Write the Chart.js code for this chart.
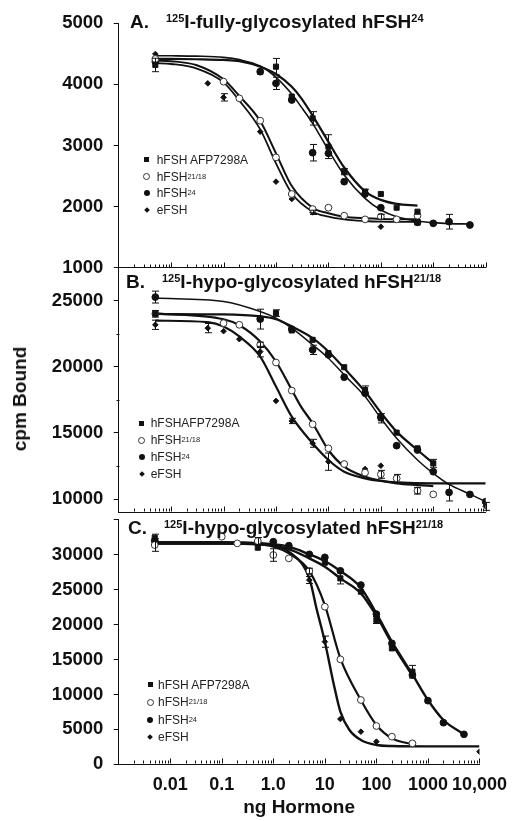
<!DOCTYPE html>
<html><head><meta charset="utf-8">
<script src="https://cdn.jsdelivr.net/npm/chart.js@4/dist/chart.umd.min.js"></script>
<style>
html,body{margin:0;padding:0;background:#fff;}
body{width:517px;height:821px;position:relative;overflow:hidden;font-family:"Liberation Sans",Arial,sans-serif;color:#111;}
canvas{position:absolute;left:0;}
.ttl{position:absolute;font-weight:bold;font-size:19px;white-space:nowrap;line-height:20px;color:#111;}
.ttl .sp{font-size:11px;vertical-align:6px;}
.ttl .gap{display:inline-block;width:17px;}
.leg{position:absolute;font-size:12px;color:#222;}
.leg .row{display:flex;align-items:center;white-space:nowrap;}
.leg sup{font-size:7.5px;vertical-align:4px;line-height:0;}
.mk{display:inline-flex;width:10px;justify-content:center;align-items:center;}
.sq{width:5px;height:5px;background:#111;}
.oc{width:5px;height:5px;border:1px solid #333;border-radius:50%;background:#fff;}
.fc{width:6px;height:6px;border-radius:50%;background:#111;}
.dm{width:4px;height:4px;background:#111;transform:rotate(45deg);}
#ylab{position:absolute;left:20px;top:399px;transform:translate(-50%,-50%) rotate(-90deg);font-weight:bold;font-size:19px;white-space:nowrap;color:#111;}
</style>
</head><body>
<canvas id="cA" width="517" height="290" style="top:0px"></canvas>
<canvas id="cB" width="517" height="290" style="top:245px"></canvas>
<canvas id="cC" width="517" height="326" style="top:495px"></canvas>

<div class="ttl" style="left:130px;top:8px">A.<span class="gap"></span><span class="sp">125</span>I-fully-glycosylated hFSH<span class="sp">24</span></div>
<div class="ttl" style="left:126px;top:268px">B.<span class="gap"></span><span class="sp">125</span>I-hypo-glycosylated hFSH<span class="sp">21/18</span></div>
<div class="ttl" style="left:128px;top:514px">C.<span class="gap"></span><span class="sp">125</span>I-hypo-glycosylated hFSH<span class="sp">21/18</span></div>

<div class="leg" style="left:141.7px;top:151.6px">
 <div class="row" style="height:16.7px"><span class="mk" style="margin-right:5px"><span class="sq"></span></span>hFSH AFP7298A</div>
 <div class="row" style="height:16.7px"><span class="mk" style="margin-right:5px"><span class="oc"></span></span>hFSH<sup>21/18</sup></div>
 <div class="row" style="height:16.7px"><span class="mk" style="margin-right:5px"><span class="fc"></span></span>hFSH<sup>24</sup></div>
 <div class="row" style="height:16.7px"><span class="mk" style="margin-right:5px"><span class="dm"></span></span>eFSH</div>
</div>
<div class="leg" style="left:136.7px;top:414.8px">
 <div class="row" style="height:17px"><span class="mk" style="margin-right:4px"><span class="sq"></span></span>hFSHAFP7298A</div>
 <div class="row" style="height:17px"><span class="mk" style="margin-right:4px"><span class="oc"></span></span>hFSH<sup>21/18</sup></div>
 <div class="row" style="height:17px"><span class="mk" style="margin-right:4px"><span class="fc"></span></span>hFSH<sup>24</sup></div>
 <div class="row" style="height:17px"><span class="mk" style="margin-right:4px"><span class="dm"></span></span>eFSH</div>
</div>
<div class="leg" style="left:145px;top:676.3px">
 <div class="row" style="height:17.4px"><span class="mk" style="margin-right:3px"><span class="sq"></span></span>hFSH AFP7298A</div>
 <div class="row" style="height:17.4px"><span class="mk" style="margin-right:3px"><span class="oc"></span></span>hFSH<sup>21/18</sup></div>
 <div class="row" style="height:17.4px"><span class="mk" style="margin-right:3px"><span class="fc"></span></span>hFSH<sup>24</sup></div>
 <div class="row" style="height:17.4px"><span class="mk" style="margin-right:3px"><span class="dm"></span></span>eFSH</div>
</div>
<div id="ylab">cpm Bound</div>

<script>
// ---------- axis data ----------
const xMin = 0.001, xMax = 10000;
const xTickValues = [0.01, 0.1, 1, 10, 100, 1000, 10000];
const xTickLabels = ['0.01', '0.1', '1.0', '10', '100', '1000', '10,000'];
const xTitle = 'ng Hormone';

const aYRange = [1000, 5000];
const aYTicks = [1000, 2000, 3000, 4000, 5000];
const bYRange = [9000, 27500];
const bYTicks = [10000, 15000, 20000, 25000];
const bYMinor = [12500, 17500, 22500];
const cYRange = [0, 35000];
const cYTicks = [0, 5000, 10000, 15000, 20000, 25000, 30000, 35000];
const cYHidden = [35000];

// ---------- Panel A: 125I-fully-glycosylated hFSH24 ----------
const aAfpX = [0.005, 0.5, 1, 2, 5, 10, 20, 50, 100, 200, 500];
const aAfpY = [4318, 4208, 4290, 3800, 3444, 2981, 2571, 2244, 2206, 1982, 1917];
const aAfpErr = [110, 0, 135, 0, 110, 195, 50, 40, 0, 0, 0];
const aH2118X = [0.005, 0.1, 0.2, 0.5, 1, 2, 5, 10, 20, 50, 100, 200, 500];
const aH2118Y = [4416, 4045, 3772, 3406, 2806, 2206, 1960, 1982, 1851, 1791, 1835, 1791, 1851];
const aH2118Err = [0, 0, 0, 0, 0, 0, 0, 0, 0, 0, 40, 0, 0];
const aH24X = [0.005, 0.5, 1, 2, 5, 10, 20, 50, 100, 500, 1000, 2000, 5000];
const aH24Y = [4372, 4208, 4017, 3745, 2882, 2872, 2408, 2206, 1982, 1742, 1726, 1753, 1699];
const aH24Err = [0, 0, 100, 0, 135, 0, 0, 0, 0, 40, 0, 120, 0];
const aEfshX = [0.005, 0.05, 0.1, 0.5, 1, 2, 5, 100];
const aEfshY = [4497, 4017, 3788, 3226, 2408, 2124, 1906, 1671];
const aEfshErr = [0, 0, 60, 0, 0, 0, 35, 0];

const aFitAfpX = [0.005, 0.01, 0.03, 0.1, 0.2, 0.5, 1, 2, 3, 5, 10, 20, 50, 100, 200, 500];
const aFitAfpY = [4420, 4418, 4412, 4400, 4380, 4290, 4170, 3960, 3780, 3490, 3060, 2640, 2250, 2110, 2045, 2015];
const aFitH24X = [0.005, 0.01, 0.03, 0.1, 0.2, 0.5, 1, 2, 3, 5, 10, 20, 50, 100, 200, 500, 1000, 2000, 5000];
const aFitH24Y = [4470, 4468, 4462, 4443, 4405, 4300, 4116, 3843, 3636, 3363, 2926, 2517, 2135, 1944, 1835, 1764, 1737, 1722, 1715];
const aFitH2118X = [0.005, 0.01, 0.03, 0.1, 0.2, 0.5, 1, 2, 5, 10, 20, 50, 100, 200, 500];
const aFitH2118Y = [4392, 4380, 4317, 4083, 3810, 3401, 2872, 2337, 1982, 1890, 1835, 1808, 1797, 1793, 1791];
const aFitEfshX = [0.005, 0.01, 0.03, 0.1, 0.2, 0.5, 1, 2, 5, 10, 20, 50, 100, 200, 500];
const aFitEfshY = [4350, 4334, 4263, 4034, 3734, 3264, 2708, 2217, 1917, 1835, 1791, 1764, 1753, 1750, 1748];

// ---------- Panel B: 125I-hypo-glycosylated hFSH21/18 ----------
const bAfpX = [0.005, 0.5, 1, 2, 5, 10, 20, 50, 100, 200, 500, 1000];
const bAfpY = [24015, 23650, 24066, 22753, 22046, 21036, 19975, 18258, 16112, 15026, 13839, 12703];
const bAfpErr = [0, 0, 250, 0, 0, 0, 0, 300, 350, 0, 0, 300];
const bH24X = [0.005, 0.5, 2, 5, 10, 20, 50, 100, 200, 500, 1000, 2000, 5000, 10000];
const bH24Y = [25278, 23611, 22850, 21288, 20909, 19218, 18005, 16200, 14041, 13713, 12072, 10506, 10355, 9799];
const bH24Err = [450, 750, 0, 350, 0, 0, 0, 0, 0, 0, 0, 650, 0, 0];
const bH2118X = [0.005, 0.1, 0.2, 0.5, 1, 2, 5, 10, 20, 50, 100, 200, 500, 1000];
const bH2118Y = [24015, 23308, 23182, 21667, 20328, 18208, 15657, 13839, 12652, 11996, 11870, 11567, 10632, 10355];
const bH2118Err = [250, 0, 0, 200, 0, 0, 0, 0, 0, 0, 300, 300, 250, 0];
const bEfshX = [0.005, 0.05, 0.1, 0.2, 0.5, 1, 2, 5, 10, 50, 100, 10000];
const bEfshY = [23182, 22929, 22700, 22096, 21150, 17425, 15910, 14218, 12829, 12274, 12526, 9450];
const bEfshErr = [350, 350, 0, 0, 400, 0, 200, 300, 650, 0, 0, 300];

const bFitAfpX = [0.005, 0.1, 0.5, 1, 2, 5, 10, 20, 50, 100, 200, 500, 1000];
const bFitAfpY = [24000, 23965, 23813, 23611, 23056, 22172, 21162, 19899, 18132, 16541, 15102, 13713, 12703];
const bFitH24X = [0.005, 0.1, 0.5, 1, 2, 5, 10, 20, 50, 100, 200, 500, 1000, 2000, 5000, 10000];
const bFitH24Y = [25200, 24950, 24192, 23687, 22929, 21667, 20657, 19395, 17753, 16112, 14597, 12956, 11945, 11112, 10380, 9799];
const bFitH2118X = [0.005, 0.1, 0.2, 0.5, 1, 2, 3, 5, 10, 20, 50, 100, 200, 500, 1000];
const bFitH2118Y = [24050, 23600, 23150, 21919, 20404, 18258, 16996, 15733, 13713, 12451, 11693, 11390, 11188, 11061, 10986];
const bFitEfshX = [0.005, 0.05, 0.1, 0.2, 0.5, 1, 2, 5, 10, 20, 50, 100, 200, 1000, 10000];
const bFitEfshY = [23500, 23384, 23056, 22298, 20783, 18511, 16238, 14218, 12956, 12072, 11567, 11365, 11264, 11188, 11188];

// ---------- Panel C: 125I-hypo-glycosylated hFSH21/18 ----------
const cAfpX = [0.005, 0.5, 10, 20, 50, 100, 200, 500];
const cAfpY = [32438, 31007, 28860, 26617, 24709, 20654, 16598, 13258];
const cAfpErr = [500, 0, 0, 800, 0, 500, 0, 900];
const cH24X = [0.005, 1, 2, 5, 10, 20, 50, 100, 200, 500, 1000, 2000, 5000];
const cH24Y = [32000, 31865, 31293, 30053, 29625, 27700, 25663, 21500, 17314, 12781, 9108, 5959, 4289];
const cH24Err = [0, 0, 0, 0, 0, 0, 0, 0, 0, 0, 0, 0, 0];
const cH2118X = [0.005, 0.1, 0.2, 0.5, 1, 2, 5, 10, 20, 50, 100, 200, 500];
const cH2118Y = [31388, 32581, 31627, 31961, 29957, 29480, 27667, 22562, 15024, 9204, 5482, 3955, 3001];
const cH2118Err = [900, 0, 0, 500, 900, 0, 400, 0, 0, 0, 0, 0, 0];
const cEfshX = [0.005, 5, 10, 20, 50, 100, 10000];
const cEfshY = [31900, 26379, 17553, 6484, 4671, 3240, 1808];
const cEfshErr = [0, 500, 800, 0, 0, 0, 0];

const cFitAfpX = [0.005, 0.1, 0.5, 1, 2, 5, 10, 20, 50, 100, 200, 500];
const cFitAfpY = [31800, 31780, 31600, 31300, 30816, 29480, 28287, 26617, 24471, 21274, 17314, 12686];
const cFitH24X = [0.005, 0.1, 0.5, 1, 2, 5, 10, 20, 50, 100, 200, 500, 1000, 2000, 5000];
const cFitH24Y = [31750, 31740, 31650, 31500, 31150, 30053, 29098, 27667, 25282, 21608, 17553, 12877, 9204, 6340, 4289];
const cFitH2118X = [0.005, 0.1, 0.5, 1, 2, 5, 10, 20, 50, 100, 200, 500];
const cFitH2118Y = [31600, 31590, 31450, 31150, 30196, 27667, 22801, 15167, 9204, 5625, 3717, 2858];
const cFitEfshX = [0.005, 0.1, 0.5, 1, 2, 5, 7, 10, 15, 20, 30, 50, 100, 200, 1000, 10000];
const cFitEfshY = [31600, 31590, 31550, 31388, 30434, 26617, 22085, 17553, 11351, 7534, 4910, 3479, 2764, 2620, 2572, 2572];

// ---------- helpers ----------
const pts = (xs, ys) => xs.map((x, i) => ({x: x, y: ys[i]}));
const STY = {
  afp:  {pointStyle: 'rect',    r: 3.6, bg: '#111', bc: '#111'},
  h2118:{pointStyle: 'circle',  r: 3.4, bg: '#fff', bc: '#333'},
  h24:  {pointStyle: 'circle',  r: 3.4, bg: '#111', bc: '#111'},
  efsh: {pointStyle: 'rectRot', r: 2.8, bg: '#111', bc: '#111'}
};
function marks(label, xs, ys, errs, s) {
  return {label: label, data: pts(xs, ys), errors: errs, showLine: false,
    pointStyle: STY[s].pointStyle, pointRadius: STY[s].r, pointHoverRadius: STY[s].r,
    pointBackgroundColor: STY[s].bg, pointBorderColor: STY[s].bc, pointBorderWidth: 1, order: 0};
}
function fit(xs, ys, w) {
  return {data: pts(xs, ys), pointRadius: 0, borderColor: '#111', borderWidth: w,
    fill: false, cubicInterpolationMode: 'monotone', order: 1};
}

const decor = {
  id: 'decor',
  afterDatasetsDraw(chart) {
    const ctx = chart.ctx, xs = chart.scales.x, ys = chart.scales.y;
    const o = chart.options.plugins.decor || {};
    ctx.save();
    ctx.strokeStyle = '#111'; ctx.lineWidth = 1;
    // error bars
    chart.data.datasets.forEach(ds => {
      if (!ds.errors) return;
      ds.data.forEach((p, j) => {
        const e = ds.errors[j];
        if (!e) return;
        const px = Math.round(xs.getPixelForValue(p.x)) + 0.5;
        const y1 = ys.getPixelForValue(p.y + e), y2 = ys.getPixelForValue(p.y - e);
        ctx.beginPath();
        ctx.moveTo(px, y1); ctx.lineTo(px, y2);
        ctx.moveTo(px - 3.5, y1); ctx.lineTo(px + 3.5, y1);
        ctx.moveTo(px - 3.5, y2); ctx.lineTo(px + 3.5, y2);
        ctx.stroke();
      });
    });
    // inside x ticks (log minor + major)
    const b = Math.round(chart.chartArea.bottom) - 0.5;
    ctx.beginPath();
    for (let k = -3; k <= 4; k++) {
      for (let m = 1; m <= 9; m++) {
        const v = m * Math.pow(10, k);
        if (v <= xs.min * 1.0001 || v > xs.max * 1.0001) continue;
        const px = Math.round(xs.getPixelForValue(v)) + 0.5;
        const len = (m === 1) ? 5 : 3;
        ctx.moveTo(px, b); ctx.lineTo(px, b - len);
      }
    }
    ctx.stroke();
    // minor y ticks
    if (o.yMinor) {
      const l = Math.round(chart.chartArea.left) + 0.5;
      ctx.beginPath();
      o.yMinor.forEach(v => {
        const py = Math.round(ys.getPixelForValue(v)) + 0.5;
        ctx.moveTo(l, py); ctx.lineTo(l - 3, py);
      });
      ctx.stroke();
    }
    ctx.restore();
  }
};

function panel(id, cfg) {
  const tickFont = {family: '"Liberation Sans", Arial, sans-serif', size: 18.5, weight: 'bold'};
  return new Chart(document.getElementById(id), {
    type: 'line',
    data: {datasets: cfg.datasets},
    plugins: [decor],
    options: {
      responsive: false, animation: false, devicePixelRatio: 1,
      layout: {padding: {top: cfg.padTop, bottom: cfg.padBottom, left: 0, right: 31.3}},
      plugins: {legend: {display: false}, tooltip: {enabled: false}, decor: {yMinor: cfg.yMinor}},
      scales: {
        x: {
          type: 'logarithmic', min: xMin, max: xMax, position: 'bottom',
          afterBuildTicks: s => { s.ticks = xTickValues.map(v => ({value: v})); },
          afterFit: s => { s.height = cfg.xHeight; },
          grid: {display: true, drawOnChartArea: false, drawTicks: false, color: '#111'},
          border: {display: true, color: '#111', width: 1},
          ticks: {display: cfg.showX, autoSkip: false, maxRotation: 0, padding: 10, color: '#111',
            font: {family: '"Liberation Sans", Arial, sans-serif', size: 18, weight: 'bold'},
            callback: (v, i) => xTickLabels[i]},
          title: {display: cfg.showX, text: xTitle, color: '#111', padding: {top: 0, bottom: 2},
            font: {family: '"Liberation Sans", Arial, sans-serif', size: 19, weight: 'bold'}}
        },
        y: {
          type: 'linear', min: cfg.yRange[0], max: cfg.yRange[1],
          afterBuildTicks: s => { s.ticks = cfg.yTicks.map(v => ({value: v})); },
          afterFit: s => { s.width = 118.7; },
          grid: {display: true, drawOnChartArea: false, drawTicks: true, tickLength: 5, color: '#111'},
          border: {display: true, color: '#111', width: 1},
          ticks: {autoSkip: false, padding: 10.4, color: '#111', font: tickFont,
            callback: v => (cfg.yHidden && cfg.yHidden.includes(v)) ? '' : String(v)}
        }
      }
    }
  });
}

panel('cA', {
  padTop: 23.3, padBottom: 22.3, xHeight: 0, showX: false,
  yRange: aYRange, yTicks: aYTicks,
  datasets: [
    marks('hFSH AFP7298A', aAfpX, aAfpY, aAfpErr, 'afp'),
    marks('hFSH21/18', aH2118X, aH2118Y, aH2118Err, 'h2118'),
    marks('hFSH24', aH24X, aH24Y, aH24Err, 'h24'),
    marks('eFSH', aEfshX, aEfshY, aEfshErr, 'efsh'),
    fit(aFitAfpX, aFitAfpY, 2.2),
    fit(aFitH24X, aFitH24Y, 1.6),
    fit(aFitH2118X, aFitH2118Y, 2.0),
    fit(aFitEfshX, aFitEfshY, 1.8)
  ]
});
panel('cB', {
  padTop: 22.7, padBottom: 22.7, xHeight: 0, showX: false,
  yRange: bYRange, yTicks: bYTicks, yMinor: bYMinor,
  datasets: [
    marks('hFSHAFP7298A', bAfpX, bAfpY, bAfpErr, 'afp'),
    marks('hFSH21/18', bH2118X, bH2118Y, bH2118Err, 'h2118'),
    marks('hFSH24', bH24X, bH24Y, bH24Err, 'h24'),
    marks('eFSH', bEfshX, bEfshY, bEfshErr, 'efsh'),
    fit(bFitAfpX, bFitAfpY, 2.2),
    fit(bFitH24X, bFitH24Y, 1.5),
    fit(bFitH2118X, bFitH2118Y, 2.2),
    fit(bFitEfshX, bFitEfshY, 2.2)
  ]
});
panel('cC', {
  padTop: 24.8, padBottom: 0, xHeight: 56.7, showX: true,
  yRange: cYRange, yTicks: cYTicks, yHidden: cYHidden,
  datasets: [
    marks('hFSH AFP7298A', cAfpX, cAfpY, cAfpErr, 'afp'),
    marks('hFSH21/18', cH2118X, cH2118Y, cH2118Err, 'h2118'),
    marks('hFSH24', cH24X, cH24Y, cH24Err, 'h24'),
    marks('eFSH', cEfshX, cEfshY, cEfshErr, 'efsh'),
    fit(cFitAfpX, cFitAfpY, 2.4),
    fit(cFitH24X, cFitH24Y, 2.4),
    fit(cFitH2118X, cFitH2118Y, 2.2),
    fit(cFitEfshX, cFitEfshY, 2.4)
  ]
});
</script>
</body></html>
